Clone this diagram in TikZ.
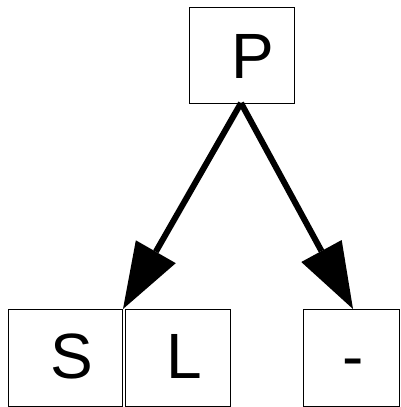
\documentclass[tikz,border=0pt]{standalone}
\usepackage{fontspec}
\setmainfont{Liberation Sans}
\usetikzlibrary{arrows.meta}
\begin{document}
\begin{tikzpicture}[x=1pt,y=-1pt,
  boxstyle/.style={draw=black,line width=1pt,inner sep=0pt,anchor=north west},
  lbl/.style={inner sep=0pt,anchor=base,font=\fontsize{64}{64}\selectfont},
  edge/.style={line width=6pt,-{Triangle[length=66pt,width=46pt,line width=0pt]}}]
\useasboundingbox (0,0) rectangle (400,407);
\node[boxstyle,minimum width=105pt,minimum height=96pt] (P) at (189,7) {};
\node[boxstyle,minimum width=114pt,minimum height=97pt] (S) at (8,309) {};
\node[boxstyle,minimum width=105pt,minimum height=97pt] (L) at (125,309) {};
\node[boxstyle,minimum width=96pt,minimum height=97pt] (D) at (303,309) {};
\node[lbl] (tP) at (253,78) {P};
\node[lbl] (tS) at (71.5,378) {S};
\node[lbl] (tL) at (184,378) {L};
\node[lbl] (tD) at (353.5,378) {-};
\coordinate (pstart) at (241,103);
\coordinate (dtip) at (353,309);
\draw[edge] (pstart) -- (S.north east);
\draw[edge] (pstart) -- (dtip);
\end{tikzpicture}
\end{document}
